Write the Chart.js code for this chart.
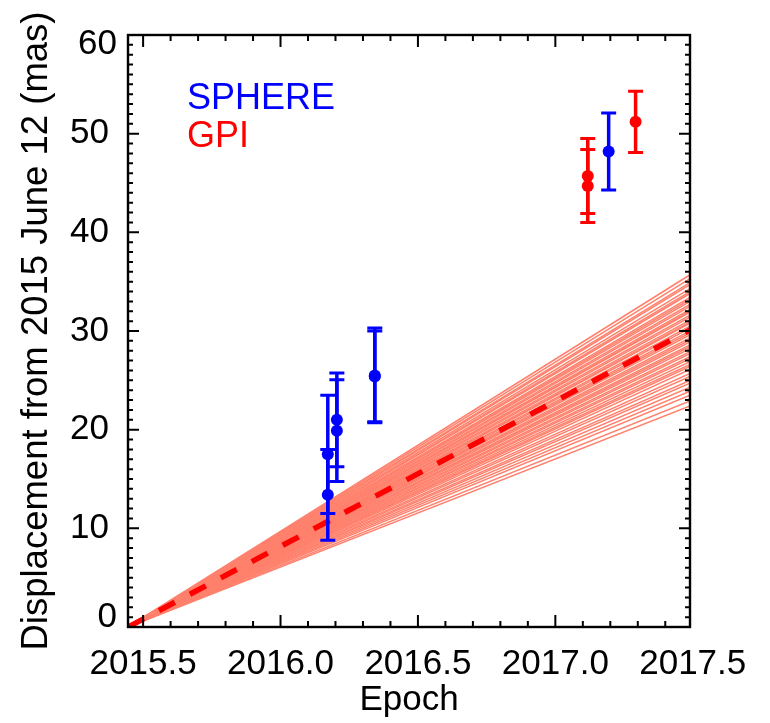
<!DOCTYPE html>
<html>
<head>
<meta charset="utf-8">
<script src="https://cdn.jsdelivr.net/npm/chart.js@4/dist/chart.umd.min.js"></script>
<style>
  html, body { margin: 0; padding: 0; background: #fff; }
  #wrap { width: 770px; height: 723px; }
</style>
</head>
<body>
<div id="wrap"><canvas id="c" width="770" height="723"></canvas></div>
<script>
// reference epoch (2015 June 12) and the axis span
var epoch0 = 2015.445;
var epochEnd = 2017.49;

// predicted displacement at epochEnd for each sampled orbit (straight lines from epoch0)
var modelEnds = [35.7, 35.3, 34.9, 34.7, 34.3, 34.0, 33.8, 33.4, 33.2, 33.0,
                 32.7, 32.5, 32.2, 32.0, 31.9, 31.6, 31.4, 31.1, 30.9, 30.8,
                 30.5, 30.3, 30.0, 29.8, 29.6, 29.3, 29.1, 28.9, 28.6, 28.4,
                 28.2, 27.9, 27.7, 27.4, 27.2, 26.9, 26.6, 26.4, 26.1, 25.7,
                 25.4, 25.0, 24.7, 24.3, 23.9, 23.5, 22.9, 22.4];
var medianEnd = 30.1;

// SPHERE measurements
var sphereEpoch = [2016.172, 2016.172, 2016.205, 2016.205, 2016.343, 2016.343, 2017.194];
var sphereDisp  = [17.5, 13.4, 21.0, 19.9, 25.5, 25.4, 48.2];
var sphereErr   = [6.0, 4.6, 4.75, 5.15, 4.8, 4.6, 3.9];

// GPI measurements
var gpiEpoch = [2017.118, 2017.118, 2017.292];
var gpiDisp  = [45.7, 44.7, 51.2];
var gpiErr   = [3.8, 3.7, 3.1];

var xMajorLabels = ['2015.5', '2016.0', '2016.5', '2017.0', '2017.5'];

var SALMON = 'rgb(255,128,108)';
var BLUE = '#0000ff';
var RED = '#ff0000';
var FAMILY = '"Liberation Sans", Arial, sans-serif';

function pts(xs, ys) {
	var out = [];
	for (var i = 0; i < xs.length; i++) out.push({x: xs[i], y: ys[i]});
	return out;
}

var datasets = [];
datasets.push({
	label: 'SPHERE', data: pts(sphereEpoch, sphereDisp), errs: sphereErr,
	showLine: false, pointRadius: 6, pointBackgroundColor: BLUE, pointBorderWidth: 0,
	borderColor: BLUE, order: 0
});
datasets.push({
	label: 'GPI', data: pts(gpiEpoch, gpiDisp), errs: gpiErr,
	showLine: false, pointRadius: 6, pointBackgroundColor: RED, pointBorderWidth: 0,
	borderColor: RED, order: 0
});
datasets.push({
	label: 'median', data: [{x: epoch0, y: 0}, {x: epochEnd, y: medianEnd}],
	showLine: true, borderColor: RED, borderWidth: 5.5, borderDash: [18, 17],
	pointRadius: 0, order: 1
});
modelEnds.forEach(function(v, i){
	datasets.push({
		label: 'orbit ' + i, data: [{x: epoch0, y: 0}, {x: epochEnd, y: v}],
		showLine: true, borderColor: SALMON, borderWidth: 1.5, pointRadius: 0, order: 2
	});
});

var errorBars = {
	id: 'errorBars',
	afterDatasetsDraw: function(chart){
		var ctx = chart.ctx, xs = chart.scales.x, ys = chart.scales.y;
		chart.data.datasets.forEach(function(ds){
			if (!ds.errs) return;
			ctx.save();
			ctx.strokeStyle = ds.borderColor;
			ds.data.forEach(function(p, i){
				var px = xs.getPixelForValue(p.x);
				var top = ys.getPixelForValue(p.y + ds.errs[i]);
				var bot = ys.getPixelForValue(p.y - ds.errs[i]);
				ctx.lineWidth = 3.5;
				ctx.beginPath();
				ctx.moveTo(px, top); ctx.lineTo(px, bot);
				ctx.stroke();
				ctx.lineWidth = 3;
				ctx.beginPath();
				ctx.moveTo(px - 7.5, top); ctx.lineTo(px + 7.5, top);
				ctx.moveTo(px - 7.5, bot); ctx.lineTo(px + 7.5, bot);
				ctx.stroke();
			});
			ctx.restore();
		});
	}
};

var frame = {
	id: 'frame',
	afterDraw: function(chart){
		var ctx = chart.ctx, a = chart.chartArea;
		var xs = chart.scales.x, ys = chart.scales.y;
		ctx.save();
		ctx.strokeStyle = '#000';
		ctx.lineWidth = 2;
		xs.ticks.forEach(function(t){
			var px = xs.getPixelForValue(t.value);
			if (px > a.right + 1) return;
			var len = Math.round(t.value * 10) % 5 === 0 ? 12 : 6;
			ctx.beginPath();
			ctx.moveTo(px, a.bottom); ctx.lineTo(px, a.bottom - len);
			ctx.moveTo(px, a.top); ctx.lineTo(px, a.top + len);
			ctx.stroke();
		});
		ys.ticks.forEach(function(t){
			var py = ys.getPixelForValue(t.value);
			var len = t.value % 10 === 0 ? 11 : 5;
			ctx.beginPath();
			ctx.moveTo(a.left, py); ctx.lineTo(a.left + len, py);
			ctx.moveTo(a.right, py); ctx.lineTo(a.right - len, py);
			ctx.stroke();
		});
		ctx.lineWidth = 2.4;
		ctx.strokeRect(a.left, a.top, a.right - a.left, a.bottom - a.top);

		// end labels of the y axis sit slightly inside the frame
		ctx.fillStyle = '#000';
		ctx.font = '35px ' + FAMILY;
		ctx.textAlign = 'right';
		ctx.textBaseline = 'middle';
		ctx.fillText('0', a.left - 11, ys.getPixelForValue(0) - 10);
		ctx.fillText('60', a.left - 11, ys.getPixelForValue(60) + 9);

		// legend text
		ctx.font = '36px ' + FAMILY;
		ctx.textAlign = 'left';
		ctx.textBaseline = 'alphabetic';
		ctx.fillStyle = BLUE;
		ctx.fillText('SPHERE', 187, 109);
		ctx.fillStyle = RED;
		ctx.fillText('GPI', 187, 147);
		ctx.restore();
	}
};

var font = {family: FAMILY, size: 35};

new Chart(document.getElementById('c'), {
	type: 'scatter',
	data: {datasets: datasets},
	options: {
		responsive: false,
		animation: false,
		layout: {padding: {left: 0, top: 35, right: 80, bottom: 0}},
		plugins: {legend: {display: false}, tooltip: {enabled: false}},
		scales: {
			x: {
				type: 'linear', min: epoch0, max: epochEnd,
				grid: {display: false}, border: {display: false},
				afterBuildTicks: function(scale){
					var t = [];
					for (var i = 0; i <= 20; i++) t.push({value: Math.round((2015.5 + i * 0.1) * 10) / 10});
					scale.ticks = t;
				},
				ticks: {
					autoSkip: false, maxRotation: 0, minRotation: 0, padding: 8,
					color: '#000', font: font,
					callback: function(v){
						var k = Math.round(v * 10);
						return k % 5 === 0 ? xMajorLabels[(k - 20155) / 5] : '';
					}
				},
				title: {display: true, text: 'Epoch', color: '#000', font: font, padding: {top: 0, bottom: 2}},
				afterFit: function(scale){ scale.height = 723 - 627; }
			},
			y: {
				type: 'linear', min: 0, max: 60,
				grid: {display: false}, border: {display: false},
				afterBuildTicks: function(scale){
					var t = [];
					for (var i = 0; i <= 60; i++) t.push({value: i});
					scale.ticks = t;
				},
				ticks: {
					autoSkip: false, padding: 11, color: '#000', font: font,
					callback: function(v){ return (v % 10 === 0 && v > 0 && v < 60) ? String(v) : ''; }
				},
				title: {display: true, text: 'Displacement from 2015 June 12 (mas)', color: '#000',
					font: {family: FAMILY, size: 36.5}, padding: {top: 15, bottom: 0}},
				afterFit: function(scale){ scale.width = 128; }
			}
		}
	},
	plugins: [errorBars, frame]
});
</script>
</body>
</html>
